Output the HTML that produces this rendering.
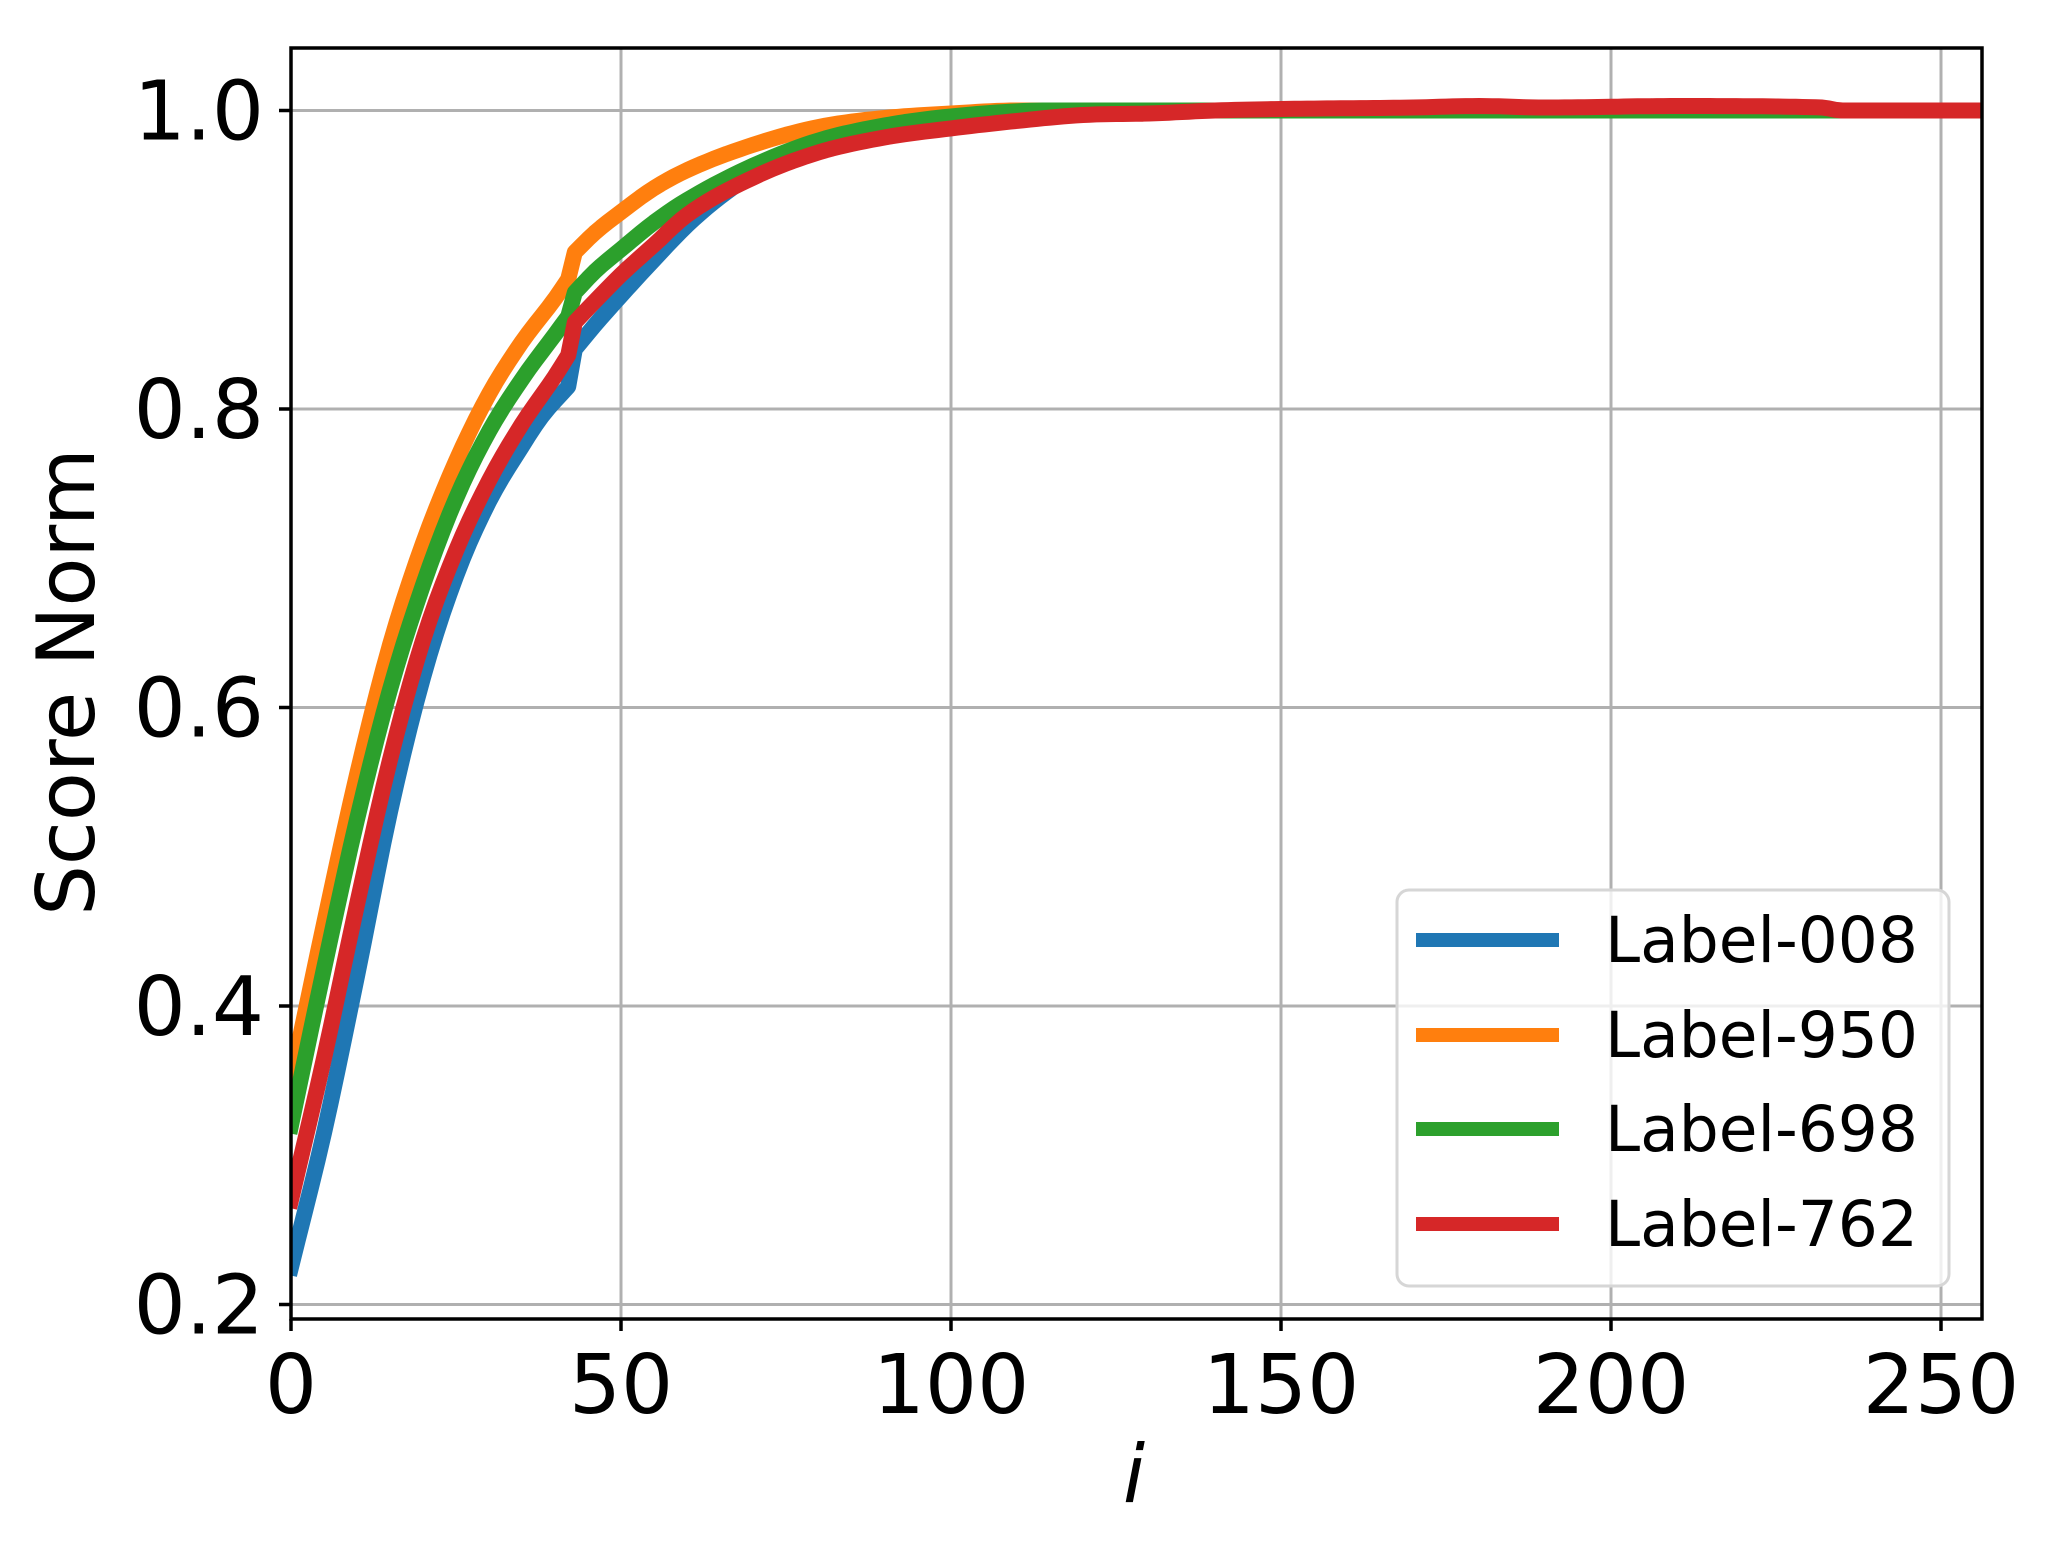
<!DOCTYPE html>
<html><head><meta charset="utf-8"><style>
html,body{margin:0;padding:0;background:#fff;}
svg{display:block;}
text{font-family:"DejaVu Sans","Liberation Sans",sans-serif;fill:#000;}
</style></head><body>
<svg id="s" width="2051" height="1546" viewBox="0 0 2051 1546" xmlns="http://www.w3.org/2000/svg">
<defs><clipPath id="c"><rect x="291" y="48" width="1691" height="1271"/></clipPath></defs>
<g id="grid" stroke="#b0b0b0" stroke-width="3"></g>
<g id="lines" clip-path="url(#c)" fill="none" stroke-width="16" stroke-linejoin="round" stroke-linecap="square"></g>
<rect x="291" y="48" width="1691" height="1271" fill="none" stroke="#000" stroke-width="3.5"/>
<g id="ticks" stroke="#000" stroke-width="3.5"></g>
<g id="labels" font-size="82"></g>
<text x="72" y="682" font-size="80" text-anchor="middle" transform="rotate(-90 72 682)" dominant-baseline="middle">Score Norm</text>
<text x="1134" y="1502" font-size="80" font-style="italic" text-anchor="middle">i</text>
<g>
<rect x="1397" y="890" width="552" height="396" rx="12" fill="#fff" fill-opacity="0.8" stroke="#d6d6d6" stroke-width="3"/>
<line x1="1416" y1="940" x2="1559" y2="940" stroke="#1f77b4" stroke-width="14"/>
<line x1="1416" y1="1035" x2="1559" y2="1035" stroke="#ff7f0e" stroke-width="14"/>
<line x1="1416" y1="1129" x2="1559" y2="1129" stroke="#2ca02c" stroke-width="14"/>
<line x1="1416" y1="1224" x2="1559" y2="1224" stroke="#d62728" stroke-width="14"/>
<g font-size="63">
<text x="1605" y="962">Label-008</text>
<text x="1605" y="1057">Label-950</text>
<text x="1605" y="1151">Label-698</text>
<text x="1605" y="1246">Label-762</text>
</g>
</g>
</svg>
<script>
var X=function(i){return 291+i*6.6;}, Y=function(v){return 110.5+(1-v)*1492.5;};
var ns="http://www.w3.org/2000/svg";
function el(p,t,a,txt){var e=document.createElementNS(ns,t);for(var k in a)e.setAttribute(k,a[k]);if(txt)e.textContent=txt;document.getElementById(p).appendChild(e);}
[0,50,100,150,200,250].forEach(function(i){var x=X(i);el("grid","line",{x1:x,y1:48,x2:x,y2:1319});el("ticks","line",{x1:x,y1:1319,x2:x,y2:1331});el("labels","text",{x:x,y:1413,"text-anchor":"middle"},String(i));});
[0.2,0.4,0.6,0.8,1.0].forEach(function(v){var y=Y(v);el("grid","line",{x1:291,y1:y,x2:1982,y2:y});el("ticks","line",{x1:279,y1:y,x2:291,y2:y});el("labels","text",{x:264,y:y+29,"text-anchor":"end"},v.toFixed(1));});
function mono(arr){var xs=[],ys=[];for(var k=0;k<arr.length;k+=2){xs.push(arr[k]);ys.push(arr[k+1]);}
var n=xs.length,d=[],m=[],i;for(i=0;i<n-1;i++)d.push((ys[i+1]-ys[i])/(xs[i+1]-xs[i]));m[0]=d[0];m[n-1]=d[n-2];for(i=1;i<n-1;i++){m[i]=(d[i-1]*d[i]<=0)?0:(d[i-1]+d[i])/2;}
for(i=0;i<n-1;i++){if(d[i]==0){m[i]=0;m[i+1]=0;continue;}var a=m[i]/d[i],b=m[i+1]/d[i],h=a*a+b*b;if(h>9){var t=3/Math.sqrt(h);m[i]=t*a*d[i];m[i+1]=t*b*d[i];}}
var pts=[];for(i=0;i<n-1;i++){var hh=xs[i+1]-xs[i];var steps=Math.max(1,Math.ceil(hh));for(var s=0;s<steps;s++){var t=s/steps,t2=t*t,t3=t2*t;var y=(2*t3-3*t2+1)*ys[i]+(t3-2*t2+t)*hh*m[i]+(-2*t3+3*t2)*ys[i+1]+(t3-t2)*hh*m[i+1];pts.push([xs[i]+t*hh,y]);}}pts.push([xs[n-1],ys[n-1]]);return pts;}
var S=[
["#1f77b4",[0,.225,5,.315,10,.42,15,.53,20,.62,25,.688,30,.738,35,.775,38,.795,42,.815],[43,.84,46,.856,50,.876,55,.9,60,.923,65,.942,70,.957,80,.976,90,.987,100,.994,110,.998,120,1.0,256,1.0]],
["#ff7f0e",[0,.35,5,.455,10,.555,15,.642,20,.71,25,.765,30,.81,35,.845,40,.874,42,.887],[43,.905,46,.918,50,.932,55,.948,60,.96,70,.977,80,.989,90,.995,100,.998,110,1.0,256,1.0]],
["#2ca02c",[0,.32,5,.425,10,.525,15,.612,20,.682,25,.74,30,.785,35,.82,40,.85,42,.862],[43,.878,46,.892,50,.907,55,.925,60,.94,70,.963,80,.98,90,.99,100,.996,115,1.0,256,1.0]],
["#d62728",[0,.27,5,.365,10,.468,15,.565,20,.645,25,.705,30,.752,35,.79,40,.822,42,.836],[43,.858,46,.872,50,.89,55,.91,60,.93,70,.955,80,.972,90,.982,100,.988,110,.993,120,.997,130,.998,140,1.0,150,1.001,170,1.002,180,1.003,190,1.002,210,1.003,232,1.002,235,1.0,256,1.0]]];
S.forEach(function(s){var P=mono(s[1]).concat(mono(s[2]));var p=P.map(function(q){return X(q[0]).toFixed(1)+","+Y(q[1]).toFixed(1);});el("lines","polyline",{points:p.join(" "),stroke:s[0]});});
</script>
</body></html>
